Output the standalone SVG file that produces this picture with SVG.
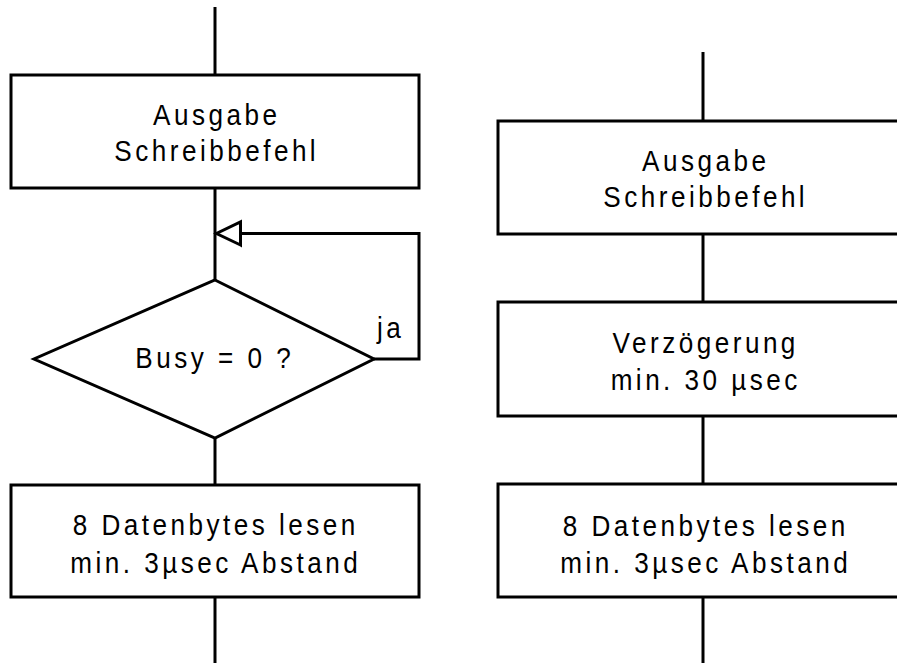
<svg xmlns="http://www.w3.org/2000/svg" width="897" height="663" viewBox="0 0 897 663">
  <style>
    .shape { fill: #ffffff; stroke: #000000; stroke-width: 3; }
    .wire { fill: none; stroke: #000000; stroke-width: 3; }
    .lbl { font-family: "Liberation Sans", Arial, sans-serif; font-size: 30px; letter-spacing: 4px; fill: #000000; text-anchor: middle; }
    .lbl-start { text-anchor: start; }
  </style>
  <defs>
    <marker id="open-tri" markerUnits="userSpaceOnUse" markerWidth="30" markerHeight="30" refX="24" refY="11.5" orient="auto" overflow="visible">
      <path d="M0,0 L24,11.5 L0,23 Z" fill="#ffffff" stroke="#000000" stroke-width="3" stroke-linejoin="miter"/>
    </marker>
  </defs>
  <rect width="897" height="663" fill="#ffffff"/>

  <!-- connectors -->
  <g id="connectors">
    <!-- left flow -->
    <line class="wire" x1="215" y1="7" x2="215" y2="75"/>
    <line class="wire" x1="215" y1="188" x2="215" y2="280"/>
    <line class="wire" x1="215" y1="438" x2="215" y2="485"/>
    <line class="wire" x1="215" y1="597" x2="215" y2="663"/>
    <!-- loop back while busy -->
    <path class="wire" d="M374,359 H419 V233.5 H216.5" marker-end="url(#open-tri)"/>
    <!-- right flow -->
    <line class="wire" x1="703" y1="52" x2="703" y2="121"/>
    <line class="wire" x1="703" y1="234" x2="703" y2="302"/>
    <line class="wire" x1="703" y1="416" x2="703" y2="484"/>
    <line class="wire" x1="703" y1="597" x2="703" y2="663"/>
  </g>

  <!-- left column -->
  <g id="l-write">
    <rect class="shape" x="11" y="75" width="408" height="113"/>
    <text class="lbl" transform="translate(215,125) scale(0.87,1)" x="2">Ausgabe</text>
    <text class="lbl" transform="translate(215,161) scale(0.87,1)" x="2">Schreibbefehl</text>
  </g>
  <g id="l-busy">
    <polygon class="shape" points="215,280 374,359 215,438 34,359"/>
    <text class="lbl" transform="translate(213,368) scale(0.87,1)" x="2">Busy = 0 ?</text>
    <text class="lbl lbl-start" transform="translate(377,338) scale(0.87,1)">ja</text>
  </g>
  <g id="l-read">
    <rect class="shape" x="11" y="485" width="408" height="112"/>
    <text class="lbl" transform="translate(214,535) scale(0.87,1)" x="2">8 Datenbytes lesen</text>
    <text class="lbl" transform="translate(214,573) scale(0.87,1)" x="2">min. 3µsec Abstand</text>
  </g>

  <!-- right column -->
  <g id="r-write">
    <rect class="shape" x="498" y="121" width="412" height="113"/>
    <text class="lbl" transform="translate(704,171) scale(0.87,1)" x="2">Ausgabe</text>
    <text class="lbl" transform="translate(704,207) scale(0.87,1)" x="2">Schreibbefehl</text>
  </g>
  <g id="r-delay">
    <rect class="shape" x="498" y="302" width="412" height="114"/>
    <text class="lbl" transform="translate(704,353) scale(0.87,1)" x="2">Verzögerung</text>
    <text class="lbl" transform="translate(704,390) scale(0.87,1)" x="2">min. 30 µsec</text>
  </g>
  <g id="r-read">
    <rect class="shape" x="498" y="484" width="412" height="113"/>
    <text class="lbl" transform="translate(704,536) scale(0.87,1)" x="2">8 Datenbytes lesen</text>
    <text class="lbl" transform="translate(704,573) scale(0.87,1)" x="2">min. 3µsec Abstand</text>
  </g>
</svg>
